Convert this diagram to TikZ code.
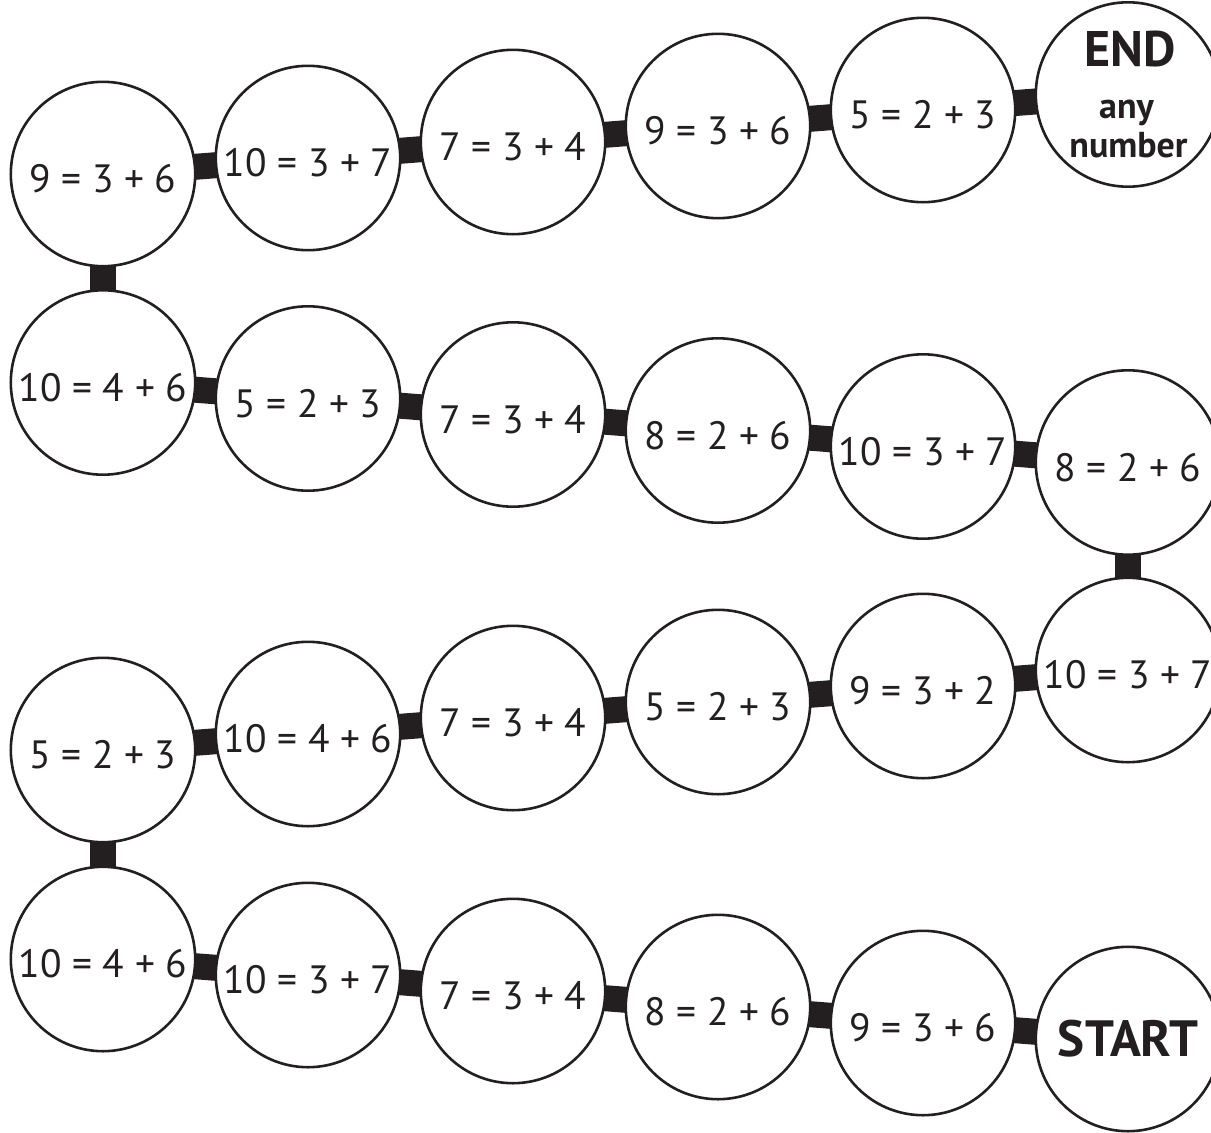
\documentclass[tikz,border=0pt]{standalone}
\usepackage{fontspec}
\setmainfont{PT Sans}
\usetikzlibrary{backgrounds}
\definecolor{ink}{HTML}{231F20}
\tikzset{
  ball/.style={circle, draw=ink, line width=2.6pt, fill=white, minimum size=184.4pt, inner sep=0pt, text=ink},
  eq/.style={ball, font=\fontsize{39.5}{39.5}\selectfont, text height=40pt, text depth=3pt},
  startball/.style={ball, font=\fontsize{51}{51}\selectfont\bfseries},
  bigword/.style={anchor=base, inner sep=0pt, text=ink, font=\fontsize{50}{50}\selectfont\bfseries},
  smallword/.style={anchor=base, inner sep=0pt, text=ink, font=\fontsize{36}{36}\selectfont\bfseries},
  bar/.style={draw=ink, line width=26pt},
}
\begin{document}
\begin{tikzpicture}[x=1pt,y=-1pt]
\useasboundingbox (0,0) rectangle (1211,1133);
% row 1 (top)
\node[eq] (a1) at (103,174) {9 = 3 + 6};
\node[eq] (a2) at (308,158) {10 = 3 + 7};
\node[eq] (a3) at (513,142) {7 = 3 + 4};
\node[eq] (a4) at (718,126) {9 = 3 + 6};
\node[eq] (a5) at (923,110) {5 = 2 + 3};
\node[ball] (a6) at (1128,94.5) {};
\node[bigword] (endw) at (1130.5,66) {END};
\node[smallword] (anyw) at (1126.5,118) {any};
\node[smallword] (numw) at (1128.5,157) {number};
% row 2
\node[eq] (b1) at (103,382.5) {10 = 4 + 6};
\node[eq] (b2) at (308,398.5) {5 = 2 + 3};
\node[eq] (b3) at (513,414.5) {7 = 3 + 4};
\node[eq] (b4) at (718,430.5) {8 = 2 + 6};
\node[eq] (b5) at (923,446.5) {10 = 3 + 7};
\node[eq] (b6) at (1128,462.5) {8 = 2 + 6};
% row 3
\node[eq] (c1) at (103,750) {5 = 2 + 3};
\node[eq] (c2) at (308,734) {10 = 4 + 6};
\node[eq] (c3) at (513,718) {7 = 3 + 4};
\node[eq] (c4) at (718,702) {5 = 2 + 3};
\node[eq] (c5) at (923,686) {9 = 3 + 2};
\node[eq] (c6) at (1128,670) {10 = 3 + 7};
% row 4 (bottom)
\node[eq] (d1) at (103,959) {10 = 4 + 6};
\node[eq] (d2) at (308,975) {10 = 3 + 7};
\node[eq] (d3) at (513,991) {7 = 3 + 4};
\node[eq] (d4) at (718,1007) {8 = 2 + 6};
\node[eq] (d5) at (923,1023) {9 = 3 + 6};
\node[startball] (d6) at (1128,1039) {START};
% connectors
\begin{scope}[on background layer]
  \draw[bar] (d6.center) -- (d5.center) -- (d4.center) -- (d3.center) -- (d2.center) -- (d1.center);
  \draw[bar] (d1.center) -- (c1.center);
  \draw[bar] (c1.center) -- (c2.center) -- (c3.center) -- (c4.center) -- (c5.center) -- (c6.center);
  \draw[bar] (c6.center) -- (b6.center);
  \draw[bar] (b6.center) -- (b5.center) -- (b4.center) -- (b3.center) -- (b2.center) -- (b1.center);
  \draw[bar] (b1.center) -- (a1.center);
  \draw[bar] (a1.center) -- (a2.center) -- (a3.center) -- (a4.center) -- (a5.center) -- (a6.center);
\end{scope}
\end{tikzpicture}
\end{document}
